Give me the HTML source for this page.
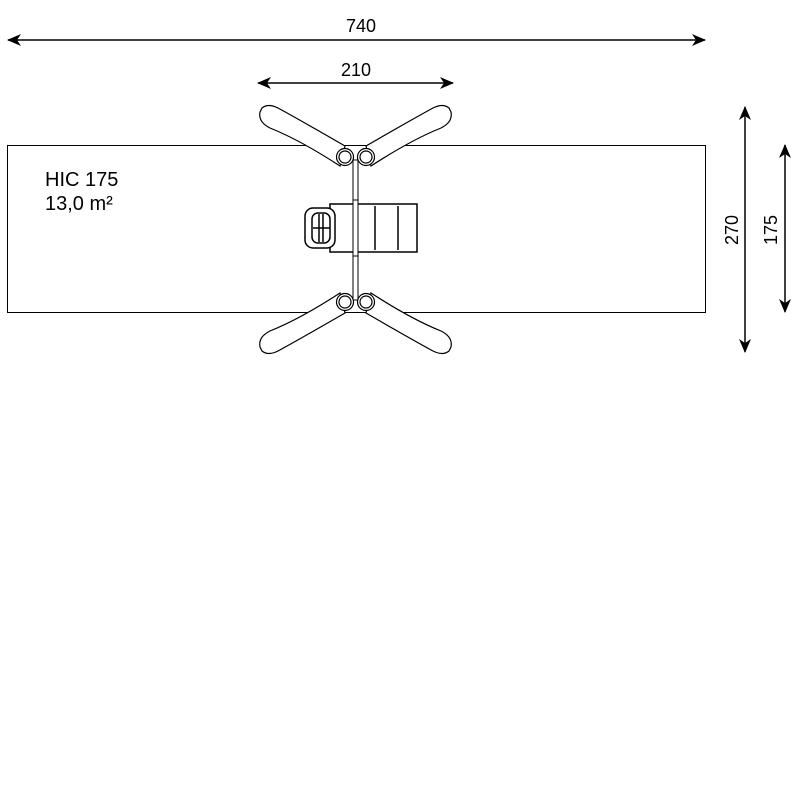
<!DOCTYPE html>
<html><head><style>
html,body{margin:0;padding:0;background:#fff;}
svg{display:block;}
text{font-family:"Liberation Sans",sans-serif;fill:#000;}
</style></head><body>
<svg width="800" height="800" viewBox="0 0 800 800" xmlns="http://www.w3.org/2000/svg">
<defs>
<marker id="a" viewBox="0 0 14 12" refX="13" refY="6" markerWidth="14" markerHeight="12" orient="auto-start-reverse" markerUnits="userSpaceOnUse">
<path d="M0,0 L14,6 L0,12 L4,6 z" fill="#000"/>
</marker>
</defs>
<rect x="7.5" y="145.5" width="698" height="167" fill="none" stroke="#000" stroke-width="1"/>
<text x="45" y="186" font-size="20">HIC 175</text>
<text x="45" y="210" font-size="20">13,0 m²</text>
<line x1="8" y1="40" x2="705" y2="40" stroke="#000" stroke-width="1.5" marker-start="url(#a)" marker-end="url(#a)"/>
<text x="361" y="32" font-size="18" text-anchor="middle">740</text>
<line x1="258" y1="83" x2="453" y2="83" stroke="#000" stroke-width="1.5" marker-start="url(#a)" marker-end="url(#a)"/>
<text x="356" y="76" font-size="18" text-anchor="middle">210</text>
<line x1="745" y1="107" x2="745" y2="352" stroke="#000" stroke-width="1.5" marker-start="url(#a)" marker-end="url(#a)"/>
<text transform="translate(738,230) rotate(-90)" font-size="18" text-anchor="middle">270</text>
<line x1="785" y1="145" x2="785" y2="312" stroke="#000" stroke-width="1.5" marker-start="url(#a)" marker-end="url(#a)"/>
<text transform="translate(777,230) rotate(-90)" font-size="18" text-anchor="middle">175</text>
<rect x="353" y="160" width="5" height="140" fill="#fff" stroke="#000" stroke-width="1"/>
<g fill="#fff" stroke="#000" stroke-width="1.2">
<g id="arm">
<path d="M262,108 Q268,103 278,108 Q300,120 345,146 L340,166 Q300,140 270,128 Q258,122 260,112 z"/>
<circle cx="345" cy="157" r="8.5"/><circle cx="345" cy="157" r="6"/>
</g>
<use href="#arm" transform="translate(711,0) scale(-1,1)"/>
<use href="#arm" transform="translate(0,459) scale(1,-1)"/>
<use href="#arm" transform="translate(711,459) scale(-1,-1)"/>
</g>
<g fill="#fff" stroke="#000" stroke-width="1.5">
<rect x="330" y="204" width="87" height="48"/>
<line x1="375" y1="206" x2="375" y2="250"/>
<line x1="398" y1="206" x2="398" y2="250"/>
<rect x="305" y="208" width="30" height="40" rx="8"/>
<rect x="312" y="213" width="18" height="30" rx="6"/>
<line x1="319" y1="214" x2="319" y2="242"/><line x1="323" y1="214" x2="323" y2="242"/>
<line x1="313" y1="228" x2="330" y2="228"/>
</g>
<rect x="353" y="200" width="5" height="56" fill="#fff" stroke="#000"/>
</svg>
</body></html>
